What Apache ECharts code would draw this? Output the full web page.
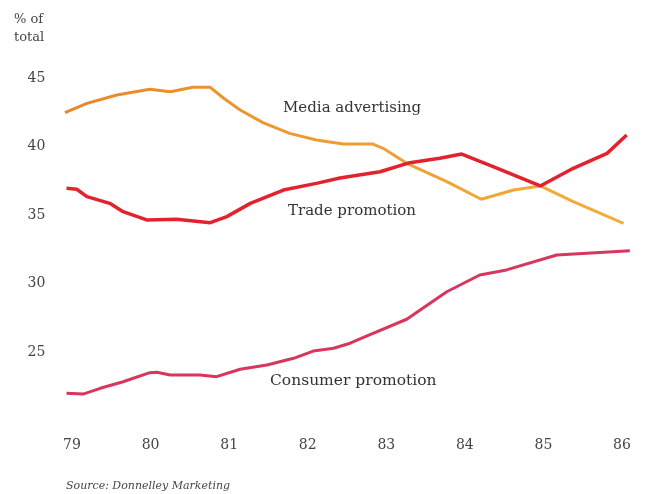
<!DOCTYPE html>
<html>
<head>
<meta charset="utf-8">
<script src="https://cdn.jsdelivr.net/npm/echarts@6/dist/echarts.min.js"></script>
<style>
  html, body { margin: 0; padding: 0; background: #fff; }
  #main { width: 649px; height: 494px; }
</style>
</head>
<body>
<div id="main"></div>
<script>
// values, x in years (79 = 1979)
var mediaYears = [78.91, 79.19, 79.57, 79.99, 80.25, 80.54, 80.76, 80.93, 81.14, 81.43, 81.77, 82.11, 82.45, 82.83, 82.96, 83.26, 83.77, 84.21, 84.62, 84.96, 85.38, 86.02];
var mediaValues = [42.47, 43.15, 43.76, 44.18, 44.0, 44.32, 44.32, 43.52, 42.66, 41.74, 40.96, 40.47, 40.18, 40.18, 39.87, 38.77, 37.43, 36.15, 36.82, 37.12, 35.97, 34.39];

var tradeYears = [78.93, 79.06, 79.19, 79.48, 79.65, 79.95, 80.33, 80.76, 80.97, 81.27, 81.69, 82.11, 82.41, 82.92, 83.30, 83.68, 83.96, 84.36, 84.96, 85.38, 85.81, 86.06];
var tradeValues = [36.95, 36.88, 36.34, 35.85, 35.24, 34.64, 34.69, 34.44, 34.88, 35.85, 36.82, 37.31, 37.70, 38.16, 38.82, 39.14, 39.45, 38.53, 37.12, 38.41, 39.50, 40.84];

var consumerYears = [78.93, 79.14, 79.36, 79.65, 79.99, 80.08, 80.25, 80.63, 80.84, 81.14, 81.48, 81.82, 82.07, 82.33, 82.54, 82.71, 83.26, 83.77, 84.19, 84.53, 85.17, 86.10];
var consumerValues = [21.99, 21.93, 22.35, 22.83, 23.49, 23.52, 23.32, 23.32, 23.20, 23.74, 24.05, 24.54, 25.07, 25.27, 25.64, 26.07, 27.39, 29.40, 30.62, 30.99, 32.08, 32.39];

var yearTicks = [79, 80, 81, 82, 83, 84, 85, 86];
var valueTicks = [25, 30, 35, 40, 45];

function pairs(xs, ys) {
  return xs.map(function (x, i) { return [x, ys[i]]; });
}

var textFont = '"DejaVu Serif", "Liberation Serif", serif';

var chart = echarts.init(document.getElementById('main'));
var option = {
  backgroundColor: '#ffffff',
  animation: false,
  grid: { left: 56.3, right: 11.3, top: 78, bottom: 73.5 },
  xAxis: {
    type: 'value',
    min: 78.8,
    max: 86.2,
    splitLine: { show: false },
    axisLine: { show: false },
    axisTick: { show: false },
    axisLabel: {
      margin: 18,
      fontFamily: textFont,
      fontSize: 14,
      color: '#444',
      showMinLabel: false,
      showMaxLabel: false,
      formatter: function (v) {
        return yearTicks.indexOf(v) >= 0 ? String(v) : '';
      }
    }
  },
  yAxis: {
    type: 'value',
    min: 20,
    max: 45,
    interval: 5,
    splitLine: { show: false },
    axisLine: { show: false },
    axisTick: { show: false },
    axisLabel: {
      margin: 11,
      fontFamily: textFont,
      fontSize: 14,
      color: '#444',
      formatter: function (v) {
        return valueTicks.indexOf(v) >= 0 ? String(v) : '';
      }
    }
  },
  graphic: [
    { type: 'text', left: 14, top: 11, style: { text: '% of\ntotal', font: '13px ' + textFont, fill: '#444', lineHeight: 18 } },
    { type: 'text', left: 283, top: 101, style: { text: 'Media advertising', font: '15px ' + textFont, fill: '#333' } },
    { type: 'text', left: 288, top: 204, style: { text: 'Trade promotion', font: '15px ' + textFont, fill: '#333' } },
    { type: 'text', left: 270, top: 373, style: { text: 'Consumer promotion', font: '15.5px ' + textFont, fill: '#333' } },
    { type: 'text', left: 66, top: 481, style: { text: 'Source: Donnelley Marketing', font: 'italic 11px ' + textFont, fill: '#444' } }
  ],
  series: [
    {
      name: 'Media advertising',
      type: 'line',
      data: pairs(mediaYears, mediaValues),
      symbol: 'none',
      lineStyle: {
        width: 3,
        color: new echarts.graphic.LinearGradient(0, 0, 1, 0, [
          { offset: 0, color: '#E8862A' },
          { offset: 0.4, color: '#EE9A30' },
          { offset: 1, color: '#F2AE3C' }
        ])
      }
    },
    {
      name: 'Trade promotion',
      type: 'line',
      data: pairs(tradeYears, tradeValues),
      symbol: 'none',
      lineStyle: { width: 3.5, color: '#E2232E' }
    },
    {
      name: 'Consumer promotion',
      type: 'line',
      data: pairs(consumerYears, consumerValues),
      symbol: 'none',
      lineStyle: { width: 3, color: '#D8365C' }
    }
  ]
};
chart.setOption(option);
</script>
</body>
</html>
